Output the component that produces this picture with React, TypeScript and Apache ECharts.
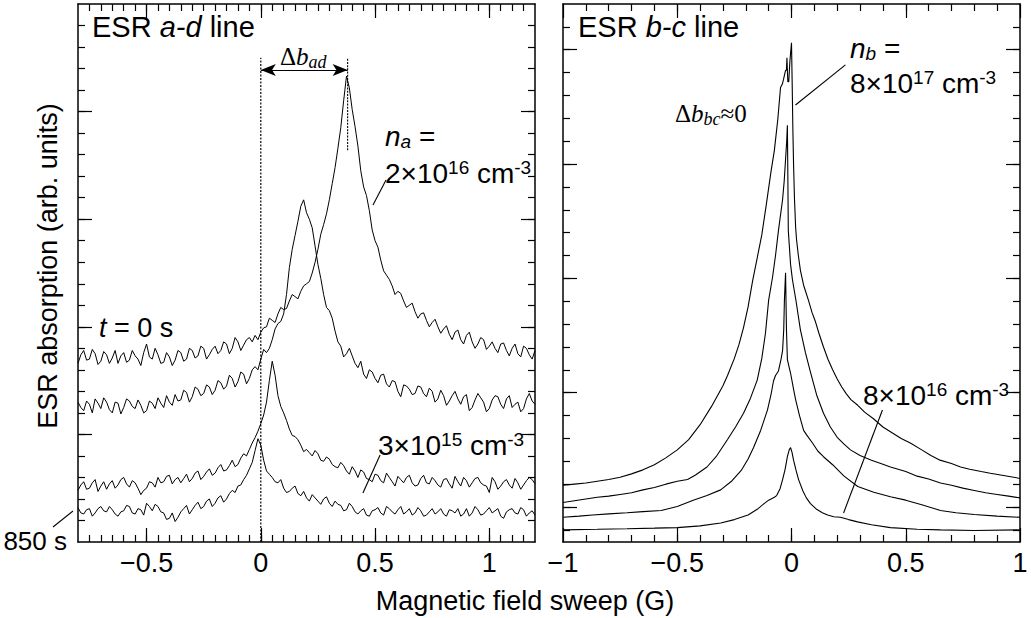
import React, { useEffect, useRef } from 'react';
import * as echarts from 'echarts';

const SANS = '"Liberation Sans", Arial, Helvetica, sans-serif';
const SERIF = '"Liberation Serif", "Times New Roman", serif';

// ---------- left panel: ESR a-d line ----------
// readings on the sweep grid -0.8, -0.775, ... 1.2 G
const leftSweepStart = -0.8;
const leftSweepStep = 0.025;
// readings half-way between grid points (-0.7875, -0.7625, ... 1.1875 G)
const leftMidStart = -0.7875;

const adT0 = [
  1.66, 1.78, 1.70, 1.75, 1.68, 1.74, 1.71, 1.66, 1.76, 1.69,
  1.73, 1.64, 1.84, 1.70, 1.74, 1.67, 1.72, 1.69, 1.76, 1.70,
  1.78, 1.73, 1.80, 1.74, 1.82, 1.78, 1.84, 1.80, 1.86, 1.83,
  1.90, 1.92,
  1.95, 2.00, 2.06, 2.12, 2.16, 2.24, 2.28, 2.33, 2.40, 2.50, 2.72, 2.95, 3.18, 3.48, 3.85, 4.33,
  4.02, 3.68, 3.30, 3.08, 2.80, 2.62, 2.48, 2.38, 2.33, 2.24,
  2.20, 2.14, 2.12, 2.06, 2.04, 2.00, 1.98, 1.93, 1.95, 1.88,
  1.92, 1.86, 1.84, 1.88, 1.82, 1.80, 1.84, 1.78, 1.80, 1.75,
  1.82, 1.74, 1.78,
];
const adT0Mid = [
  1.74, 1.69, 1.79, 1.65, 1.77, 1.66, 1.78, 1.73, 1.67, 1.78,
  1.70, 1.76, 1.72, 1.80, 1.66, 1.76, 1.64, 1.78, 1.68, 1.80,
  1.71, 1.82, 1.70, 1.79, 1.75, 1.86, 1.75, 1.90, 1.78, 1.88,
  1.86, 1.88,
  1.99, 2.08, 2.04, 2.18, 2.17, 2.30, 2.26, 2.38, 2.42, 2.60, 2.86, 3.05, 3.33, 3.66, 4.10,
  4.22,
  3.86, 3.45, 3.22, 2.90, 2.74, 2.52, 2.44, 2.30, 2.31, 2.18,
  2.22, 2.08, 2.13, 2.00, 2.07, 1.94, 2.01, 1.88, 1.97, 1.84,
  1.95, 1.80, 1.90, 1.79, 1.86, 1.76, 1.85, 1.73, 1.84, 1.72,
  1.80, 1.70,
];
const adT1 = [
  1.30, 1.22, 1.28, 1.33, 1.24, 1.30, 1.20, 1.29, 1.25, 1.31,
  1.24, 1.27, 1.22, 1.29, 1.34, 1.25, 1.30, 1.37, 1.32, 1.39,
  1.35, 1.42, 1.38, 1.44, 1.41, 1.48, 1.45, 1.52, 1.49, 1.56,
  1.52, 1.63,
  1.70, 1.76, 1.88, 2.03, 2.12, 2.55, 2.85, 3.12, 3.06, 2.92, 2.58, 2.30, 2.15, 1.96,
  1.82, 1.75, 1.73, 1.62, 1.56, 1.60, 1.52, 1.55, 1.47, 1.50,
  1.40, 1.46, 1.42, 1.38, 1.44, 1.35, 1.40, 1.33, 1.36, 1.31,
  1.40, 1.28, 1.37, 1.25, 1.38, 1.30, 1.24, 1.36, 1.28, 1.33,
  1.25, 1.30, 1.24, 1.38, 1.28,
];
const adT1Mid = [
  1.25, 1.31, 1.20, 1.29, 1.34, 1.23, 1.30, 1.19, 1.33, 1.26,
  1.32, 1.20, 1.31, 1.24, 1.29, 1.36, 1.27, 1.31, 1.41, 1.30,
  1.44, 1.36, 1.46, 1.37, 1.50, 1.42, 1.55, 1.44, 1.58, 1.47,
  1.60, 1.60,
  1.79, 1.80, 1.98, 2.05, 2.30, 2.72, 2.98, 3.18, 3.00, 2.75, 2.45, 2.18, 2.08, 1.86,
  1.72, 1.80, 1.66, 1.68, 1.52, 1.58, 1.48, 1.56, 1.44, 1.49,
  1.35, 1.45, 1.37, 1.45, 1.38, 1.43, 1.30, 1.41, 1.27, 1.36,
  1.33, 1.35, 1.22, 1.32, 1.34, 1.21, 1.32, 1.35, 1.24, 1.36,
  1.28, 1.21, 1.33, 1.31,
];
const adT2 = [
  0.48, 0.56, 0.50, 0.58, 0.52, 0.49, 0.57, 0.53, 0.60, 0.51,
  0.55, 0.44, 0.50, 0.55, 0.60, 0.56, 0.62, 0.58, 0.55, 0.63,
  0.59, 0.66, 0.61, 0.68, 0.64, 0.72, 0.67, 0.76, 0.72, 0.82,
  0.86, 0.97,
  1.10, 1.30, 1.68, 1.36, 1.20, 1.05, 0.98, 0.90, 0.86, 0.80,
  0.82, 0.75, 0.77, 0.70, 0.74, 0.66, 0.70, 0.60, 0.65, 0.58,
  0.63, 0.57, 0.64, 0.56, 0.61, 0.55, 0.62, 0.52, 0.59, 0.55,
  0.60, 0.53, 0.58, 0.54, 0.61, 0.52, 0.57, 0.55, 0.60, 0.53,
  0.46, 0.56, 0.52, 0.58, 0.50, 0.55, 0.53, 0.60, 0.54,
];
const adT2Mid = [
  0.53, 0.49, 0.55, 0.47, 0.56, 0.54, 0.50, 0.58, 0.54, 0.57,
  0.50, 0.48, 0.56, 0.51, 0.55, 0.61, 0.54, 0.60, 0.59, 0.56,
  0.64, 0.58, 0.65, 0.62, 0.69, 0.66, 0.71, 0.70, 0.78, 0.80,
  0.92, 1.03, 1.18, 1.50, 1.55,
  1.26, 1.13, 0.99, 0.95, 0.84, 0.83, 0.85, 0.76, 0.79, 0.72,
  0.69, 0.71, 0.63, 0.66, 0.67, 0.59, 0.56, 0.62, 0.55, 0.60,
  0.52, 0.58, 0.60, 0.55, 0.53, 0.62, 0.54, 0.57, 0.51, 0.59,
  0.50, 0.56, 0.60, 0.51, 0.59, 0.55, 0.52, 0.60, 0.49, 0.56,
  0.53, 0.59, 0.49, 0.57, 0.58,
];
const adT850 = [
  0.32, 0.26, 0.31, 0.27, 0.33, 0.28, 0.30, 0.24, 0.29, 0.33,
  0.26, 0.30, 0.36, 0.29, 0.33, 0.27, 0.22, 0.19, 0.28, 0.34,
  0.30, 0.37, 0.33, 0.40, 0.36, 0.43, 0.40, 0.48, 0.52, 0.58,
  0.68, 0.85,
  0.90, 0.66, 0.60, 0.55, 0.50, 0.47, 0.52, 0.43, 0.41, 0.44,
  0.38, 0.40, 0.36, 0.38, 0.34, 0.30, 0.33, 0.26, 0.31, 0.24,
  0.30, 0.27, 0.33, 0.28, 0.30, 0.26, 0.31, 0.27, 0.29, 0.25,
  0.31, 0.28, 0.26, 0.30, 0.27, 0.24, 0.31, 0.27, 0.30, 0.26,
  0.32, 0.29, 0.24, 0.28, 0.31, 0.26, 0.30, 0.27, 0.25,
];
const adT850Mid = [
  0.27, 0.30, 0.24, 0.31, 0.29, 0.33, 0.26, 0.28, 0.34, 0.27,
  0.31, 0.25, 0.33, 0.35, 0.28, 0.21, 0.27, 0.23, 0.31, 0.26,
  0.34, 0.31, 0.38, 0.33, 0.41, 0.37, 0.45, 0.46, 0.53, 0.62,
  0.74, 0.96,
  0.76, 0.63, 0.56, 0.58, 0.46, 0.50, 0.45, 0.47, 0.38, 0.41,
  0.35, 0.42, 0.33, 0.35, 0.29, 0.36, 0.28, 0.29, 0.25, 0.29,
  0.32, 0.25, 0.31, 0.26, 0.33, 0.28, 0.25, 0.32, 0.24, 0.28,
  0.26, 0.31, 0.24, 0.29, 0.31, 0.26, 0.24, 0.33, 0.25, 0.29,
  0.27, 0.31, 0.22, 0.30, 0.27, 0.32, 0.24, 0.29,
];

// ---------- right panel: ESR b-c line ----------
const bc8e17 = [
  [-1.0, 0.19], [-0.95, 0.2], [-0.9, 0.21], [-0.85, 0.225], [-0.8, 0.24], [-0.75, 0.26], [-0.7, 0.29],
  [-0.65, 0.325], [-0.6, 0.37], [-0.55, 0.43], [-0.5, 0.5], [-0.45, 0.59], [-0.4, 0.72], [-0.35, 0.88],
  [-0.3, 1.06], [-0.28, 1.15], [-0.25, 1.3], [-0.23, 1.42], [-0.21, 1.57], [-0.19, 1.75], [-0.17, 1.98],
  [-0.15, 2.18], [-0.13, 2.38], [-0.11, 2.65], [-0.09, 2.93], [-0.075, 3.12], [-0.06, 3.39], [-0.048, 3.67],
  [-0.04, 3.7], [-0.035, 3.74], [-0.026, 3.82], [-0.022, 3.82], [-0.02, 3.93], [-0.016, 3.72], [-0.012, 3.72],
  [-0.007, 3.9], [0, 4.06], [0.003, 3.7], [0.006, 3.3], [0.009, 3.0], [0.013, 2.7], [0.018, 2.45],
  [0.022, 2.34], [0.03, 2.2], [0.039, 2.07], [0.053, 1.94], [0.074, 1.81], [0.09, 1.7], [0.105, 1.62],
  [0.12, 1.52], [0.14, 1.4], [0.16, 1.29], [0.18, 1.2], [0.2, 1.12], [0.22, 1.05], [0.24, 0.99],
  [0.26, 0.94], [0.29, 0.89], [0.32, 0.83], [0.36, 0.77], [0.4, 0.7], [0.44, 0.65], [0.48, 0.6],
  [0.52, 0.56], [0.57, 0.5], [0.61, 0.45], [0.65, 0.41], [0.7, 0.38], [0.74, 0.35], [0.78, 0.33],
  [0.83, 0.31], [0.87, 0.295], [0.915, 0.28], [0.96, 0.265], [1.0, 0.25],
];
const bcMid1 = [
  [-1.0, 0.04], [-0.95, 0.055], [-0.9, 0.07], [-0.85, 0.085], [-0.8, 0.095], [-0.75, 0.11], [-0.7, 0.125],
  [-0.65, 0.15], [-0.6, 0.17], [-0.55, 0.2], [-0.5, 0.225], [-0.455, 0.24], [-0.42, 0.28], [-0.37, 0.35],
  [-0.33, 0.44], [-0.28, 0.59], [-0.245, 0.7], [-0.21, 0.82], [-0.18, 0.95], [-0.15, 1.11], [-0.13, 1.3],
  [-0.114, 1.52], [-0.1, 1.81], [-0.083, 2.01], [-0.07, 2.2], [-0.057, 2.42], [-0.039, 2.69], [-0.032, 2.85],
  [-0.026, 3.04], [-0.021, 3.2], [-0.018, 3.34], [-0.016, 2.9], [-0.014, 2.42], [-0.01, 2.3], [-0.004, 2.12],
  [0.004, 1.99], [0.02, 1.8], [0.039, 1.55], [0.061, 1.35], [0.083, 1.18], [0.11, 0.98], [0.14, 0.82],
  [0.17, 0.7], [0.2, 0.61], [0.23, 0.55], [0.258, 0.5], [0.3, 0.45], [0.35, 0.41], [0.4, 0.375],
  [0.433, 0.35], [0.5, 0.31], [0.55, 0.27], [0.6, 0.245], [0.652, 0.21], [0.7, 0.19], [0.75, 0.165],
  [0.8, 0.145], [0.85, 0.125], [0.9, 0.11], [0.95, 0.095], [1.0, 0.08],
];
const bcMid2 = [
  [-1.0, -0.09], [-0.93, -0.08], [-0.87, -0.07], [-0.8, -0.06], [-0.72, -0.05], [-0.65, -0.04], [-0.57, -0.03],
  [-0.5, 0.005], [-0.43, 0.06], [-0.37, 0.1], [-0.31, 0.15], [-0.26, 0.23], [-0.22, 0.32], [-0.19, 0.42],
  [-0.166, 0.52], [-0.135, 0.67], [-0.105, 0.85], [-0.09, 0.98], [-0.079, 1.1], [-0.07, 1.15], [-0.057, 1.19],
  [-0.045, 1.3], [-0.039, 1.37], [-0.034, 1.55], [-0.031, 1.81], [-0.026, 2.05], [-0.022, 1.55], [-0.018, 1.29],
  [-0.01, 1.22], [-0.004, 1.17], [0.01, 1.02], [0.018, 0.94], [0.035, 0.8], [0.053, 0.67], [0.07, 0.62],
  [0.092, 0.56], [0.115, 0.49], [0.14, 0.44], [0.18, 0.37], [0.23, 0.27], [0.29, 0.18], [0.36, 0.13],
  [0.433, 0.09], [0.5, 0.06], [0.57, 0.02], [0.652, -0.03], [0.72, -0.05], [0.8, -0.065], [0.9, -0.08],
  [1.0, -0.09],
];
const bc8e16 = [
  [-1.0, -0.2], [-0.85, -0.195], [-0.72, -0.19], [-0.6, -0.185], [-0.5, -0.18], [-0.4, -0.165], [-0.31, -0.14],
  [-0.25, -0.11], [-0.19, -0.07], [-0.15, -0.02], [-0.12, 0.03], [-0.1, 0.06], [-0.085, 0.075], [-0.075, 0.085],
  [-0.065, 0.1], [-0.05, 0.16], [-0.039, 0.24], [-0.028, 0.33], [-0.018, 0.44], [-0.01, 0.5], [-0.004, 0.52],
  [0.002, 0.48], [0.009, 0.41], [0.02, 0.32], [0.031, 0.24], [0.05, 0.14], [0.065, 0.08], [0.083, 0.03],
  [0.11, -0.02], [0.135, -0.05], [0.158, -0.07], [0.185, -0.085], [0.214, -0.09], [0.25, -0.11], [0.289, -0.13],
  [0.35, -0.155], [0.433, -0.18], [0.55, -0.195], [0.652, -0.2], [0.8, -0.205], [1.0, -0.2],
];

// ---------- annotation geometry (data coordinates) ----------
const zeroLine = [[0, 0], [0, 4.5]];
const peakMarker = [[0.38, 3.64], [0.38, 4.5]];
const shiftArrow = [[0, 4.387], [0.38, 4.387]];
const pointerNa = [[0.548, 3.364], [0.491, 3.132]];
const pointer3e15 = [[0.522, 0.809], [0.447, 0.455]];
const pointerNb = [[0.236, 3.867], [0.0175, 3.517]];
const pointer8e16 = [[0.398, 0.849], [0.228, -0.052]];

// ---------- axes ticks ----------
const leftXLabels = [-0.5, 0, 0.5, 1];
const rightXLabels = [-1, -0.5, 0, 0.5, 1];
const leftYMajor = [1, 2, 3, 4];
const rightYMajor = [0, 1, 2, 3, 4];

function range(a: number, b: number, step: number) {
  const out: number[] = [];
  const n = Math.round((b - a) / step);
  for (let i = 0; i <= n; i++) out.push(+(a + i * step).toFixed(4));
  return out;
}

const leftXMinor = range(-0.75, 1.15, 0.05);
const rightXMinor = range(-0.9, 0.9, 0.1);
const leftYMinor = range(0.2, 4.8, 0.2);
const rightYMinor = range(-0.2, 4.2, 0.2);

function sweep(values: number[], mids: number[]) {
  const pts = values.map((v, i) => [+(leftSweepStart + i * leftSweepStep).toFixed(4), v]);
  const mpts = mids.map((v, i) => [+(leftMidStart + i * leftSweepStep).toFixed(4), v]);
  return pts.concat(mpts).sort((a, b) => a[0] - b[0]);
}

const fmt = (v: number) => (v < 0 ? '\u2212' + String(-v) : String(v));

function axes(kind: 'x' | 'y', gridIndex: number, min: number, max: number, major: number[], minor: number[], labels: number[] | null) {
  const posA = kind === 'x' ? 'bottom' : 'left';
  const posB = kind === 'x' ? 'top' : 'right';
  const lineStyle = { color: '#000', width: 1.5 };
  const tickStyle = { color: '#000', width: 1.2 };
  const mk = (pos: string, ticks: number[], len: number, withLine: boolean, withLabels: boolean) => ({
    type: 'value',
    gridIndex,
    min,
    max,
    position: pos,
    splitLine: { show: false },
    axisLine: { show: withLine, onZero: false, lineStyle },
    axisTick: { show: true, inside: true, length: len, customValues: ticks, lineStyle: tickStyle },
    minorTick: { show: false },
    axisLabel: withLabels
      ? {
          show: true,
          customValues: labels,
          formatter: fmt,
          color: '#000',
          fontSize: 27,
          fontFamily: SANS,
          margin: 7,
          showMinLabel: true,
          showMaxLabel: true,
        }
      : { show: false },
  });
  return [
    mk(posA, major, 14, true, !!labels),
    mk(posA, minor, 7, false, false),
    mk(posB, major, 14, true, false),
    mk(posB, minor, 7, false, false),
  ];
}

const richBase = (size: number) => ({
  n: { fontSize: size, fontFamily: SANS, fill: '#000', lineHeight: 30, verticalAlign: 'middle' },
  i: { fontSize: size, fontFamily: SANS, fontStyle: 'italic', fill: '#000', lineHeight: 30, verticalAlign: 'middle' },
  sup: { fontSize: Math.round(size * 0.68), fontFamily: SANS, fill: '#000', lineHeight: 14, verticalAlign: 'top' },
  sub: { fontSize: Math.round(size * 0.68), fontFamily: SANS, fontStyle: 'italic', fill: '#000', lineHeight: 16, verticalAlign: 'bottom' },
  s: { fontSize: size, fontFamily: SERIF, fill: '#000', lineHeight: 30, verticalAlign: 'middle' },
  si: { fontSize: size, fontFamily: SERIF, fontStyle: 'italic', fill: '#000', lineHeight: 30, verticalAlign: 'middle' },
  ssub: { fontSize: Math.round(size * 0.72), fontFamily: SERIF, fontStyle: 'italic', fill: '#000', lineHeight: 14, verticalAlign: 'bottom' },
});

function label(text: string, x: number, y: number, size = 28, align = 'left') {
  return {
    type: 'text',
    x,
    y,
    z: 100,
    style: {
      text,
      rich: richBase(size),
      fontSize: size,
      fontFamily: SANS,
      fill: '#000',
      align,
      verticalAlign: 'middle',
      lineHeight: 30,
    },
  };
}

const lineSeries = (data: number[][], xi: number, yi: number, extra: any = {}) => ({
  type: 'line',
  xAxisIndex: xi,
  yAxisIndex: yi,
  data,
  symbol: 'none',
  showSymbol: false,
  smooth: false,
  silent: true,
  clip: false,
  lineStyle: { color: '#000', width: 1.1, ...(extra.lineStyle || {}) },
  z: 5,
});

export default function App() {
  const ref = useRef<HTMLDivElement>(null);
  useEffect(() => {
    if (!ref.current) return;
    const chart = echarts.init(ref.current, undefined, { renderer: 'svg' });
    const option: any = {
      animation: false,
      backgroundColor: '#fff',
      grid: [
        { left: 78, top: 4, width: 457, height: 538, containLabel: false, outerBoundsMode: 'none' },
        { left: 563, top: 4, width: 457, height: 538, containLabel: false, outerBoundsMode: 'none' },
      ],
      xAxis: [
        ...axes('x', 0, -0.8, 1.2, leftXLabels, leftXMinor, leftXLabels),
        ...axes('x', 1, -1, 1, rightXLabels, rightXMinor, rightXLabels),
      ],
      yAxis: [
        ...axes('y', 0, 0, 5, leftYMajor, leftYMinor, null),
        ...axes('y', 1, -0.306, 4.4, rightYMajor, rightYMinor, null),
      ],
      series: [
        lineSeries(sweep(adT0, adT0Mid), 0, 0, { lineStyle: { width: 1 } }),
        lineSeries(sweep(adT1, adT1Mid), 0, 0, { lineStyle: { width: 1 } }),
        lineSeries(sweep(adT2, adT2Mid), 0, 0, { lineStyle: { width: 1 } }),
        lineSeries(sweep(adT850, adT850Mid), 0, 0, { lineStyle: { width: 1 } }),
        lineSeries(zeroLine, 0, 0, { lineStyle: { type: [2, 1.5], width: 1.2 } }),
        lineSeries(peakMarker, 0, 0, { lineStyle: { type: [2, 1.2], width: 1.1 } }),
        {
          type: 'line',
          xAxisIndex: 0,
          yAxisIndex: 0,
          data: [],
          silent: true,
          markLine: {
            silent: true,
            animation: false,
            symbol: ['arrow', 'arrow'],
            symbolSize: [9, 15],
            label: { show: false },
            lineStyle: { color: '#000', width: 1.2, type: 'solid' },
            data: [[{ coord: shiftArrow[0] }, { coord: shiftArrow[1] }]],
          },
        },
        lineSeries(pointerNa, 0, 0),
        lineSeries(pointer3e15, 0, 0),
        lineSeries(bc8e17, 4, 4),
        lineSeries(bcMid1, 4, 4),
        lineSeries(bcMid2, 4, 4),
        lineSeries(bc8e16, 4, 4),
        lineSeries(pointerNb, 4, 4),
        lineSeries(pointer8e16, 4, 4),
      ],
      graphic: [
        label('{n|ESR }{i|a-d}{n| line}', 92, 27, 29),
        label('{n|ESR }{i|b-c}{n| line}', 578, 27, 29),
        label('{s|\u0394}{si|b}{ssub|ad}', 280, 56, 25),
        label('{i|t}{n| = 0 s}', 99, 328, 27),
        label('{n|850 s}', 67, 541, 26, 'right'),
        label('{i|n}{sub|a}{n| =}', 385, 136, 28),
        label('{n|2\u00d710}{sup|16}{n| cm}{sup|-3}', 385, 173, 28),
        label('{n|3\u00d710}{sup|15}{n| cm}{sup|-3}', 378, 445, 28),
        label('{s|\u0394}{si|b}{ssub|bc}{s|\u22480}', 675, 113, 25),
        label('{i|n}{sub|b}{n| =}', 850, 48, 28),
        label('{n|8\u00d710}{sup|17}{n| cm}{sup|-3}', 850, 83, 28),
        label('{n|8\u00d710}{sup|16}{n| cm}{sup|-3}', 863, 395, 28),
        {
          type: 'line',
          z: 100,
          shape: { x1: 53, y1: 527, x2: 73, y2: 511 },
          style: { stroke: '#000', lineWidth: 1.1 },
        },
        {
          type: 'text',
          x: 525,
          y: 601,
          z: 100,
          style: {
            text: 'Magnetic field sweep (G)',
            fontSize: 27,
            fontFamily: SANS,
            fill: '#000',
            align: 'center',
            verticalAlign: 'middle',
          },
        },
        {
          type: 'text',
          x: 48,
          y: 266,
          rotation: Math.PI / 2,
          z: 100,
          style: {
            text: 'ESR absorption (arb. units)',
            fontSize: 27,
            fontFamily: SANS,
            fill: '#000',
            align: 'center',
            verticalAlign: 'middle',
          },
        },
      ],
    };
    chart.setOption(option);
    return () => chart.dispose();
  }, []);
  return (
    <div
      ref={ref}
      style={{ position: 'absolute', left: 0, top: 0, width: 1031, height: 618, background: '#fff' }}
    />
  );
}
